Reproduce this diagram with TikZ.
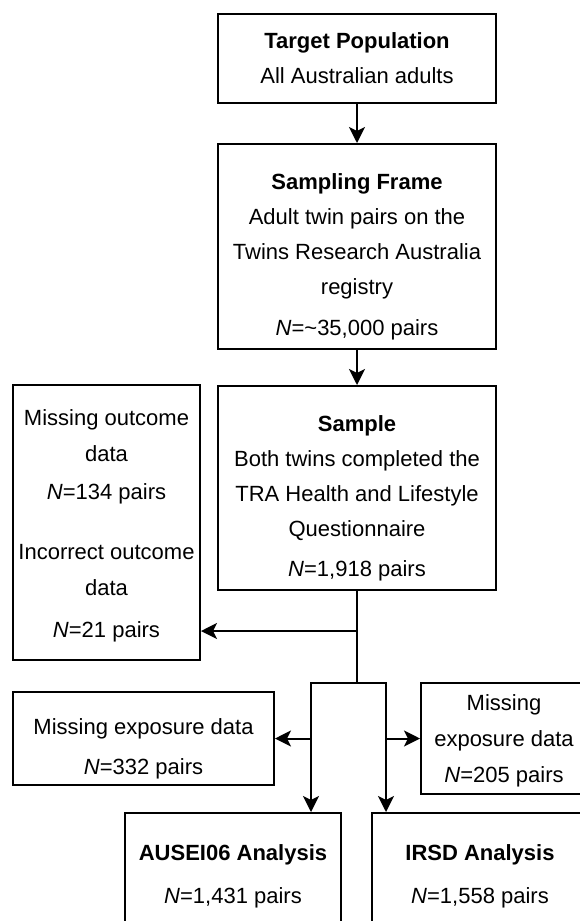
\documentclass[tikz,border=0pt]{standalone}
\usepackage{fontspec}
\setmainfont{Liberation Sans}
\usetikzlibrary{arrows.meta}
\newcommand{\toppad}[1][36pt]{\rule{0pt}{#1}}

\begin{document}
\begin{tikzpicture}[x=1pt, y=-1pt,
    box/.style={draw, line width=2pt, align=center, inner sep=0pt,
      font=\fontsize{22}{35}\selectfont},
    arr/.style={line width=2pt, -{Stealth[length=16pt, width=16pt, inset=4pt]}}]
  \useasboundingbox (0,0) rectangle (580,921);
  \clip (0,0) rectangle (580,921);
  % main chain
  \node[box, minimum width=278pt, minimum height=89pt] (T) at (357,58.5)
    {\textbf{Target Population}\\All Australian adults};
  \node[box, minimum width=278pt, minimum height=205pt] (F) at (357,246.5)
    {\toppad\textbf{Sampling Frame}\\Adult twin pairs on the\\Twins Research Australia\\registry\\[6pt]\textit{N}=\textasciitilde35,000 pairs};
  \node[box, minimum width=278pt, minimum height=204pt] (S) at (357,488)
    {\toppad\textbf{Sample}\\Both twins completed the\\TRA Health and Lifestyle\\Questionnaire\\[5pt]\textit{N}=1,918 pairs};
  % exclusions
  \node[box, minimum width=187pt, minimum height=275pt] (O) at (106.5,522.5)
    {\toppad[22pt]Missing outcome\\[1pt]data\\[3pt]\textit{N}=134 pairs\\[25pt]Incorrect outcome\\[1pt]data\\[7pt]\textit{N}=21 pairs};
  \node[box, minimum width=261pt, minimum height=93pt] (EL) at (143.5,738.5)
    {\toppad Missing exposure data\\[5pt]\textit{N}=332 pairs};
  \node[box, minimum width=166pt, minimum height=111pt] (ER) at (504,738.5)
    {\toppad[20pt]Missing\\[1pt]exposure data\\[1pt]\textit{N}=205 pairs};
  % analyses
  \node[box, minimum width=216pt, minimum height=126pt] (A) at (233,876)
    {\textbf{AUSEI06 Analysis}\\[8pt]\textit{N}=1,431 pairs};
  \node[box, minimum width=216pt, minimum height=126pt] (I) at (480,876)
    {\textbf{IRSD Analysis}\\[8pt]\textit{N}=1,558 pairs};
  \coordinate (tap) at (357,631);
  \coordinate (split) at (357,683);
  \coordinate (brL) at (311,683);
  \coordinate (brR) at (386,683);
  \draw[arr] (T) -- (F);
  \draw[arr] (F) -- (S);
  \draw[line width=2pt] (S) -- (split);
  \draw[arr] (tap) -- (tap -| O.east);
  \draw[arr] (split) -| (brL |- A.north);
  \draw[arr] (split) -| (brR |- I.north);
  \draw[arr] (brL |- EL.east) -- (EL.east);
  \draw[arr] (brR |- ER.west) -- (ER.west);
\end{tikzpicture}
\end{document}
